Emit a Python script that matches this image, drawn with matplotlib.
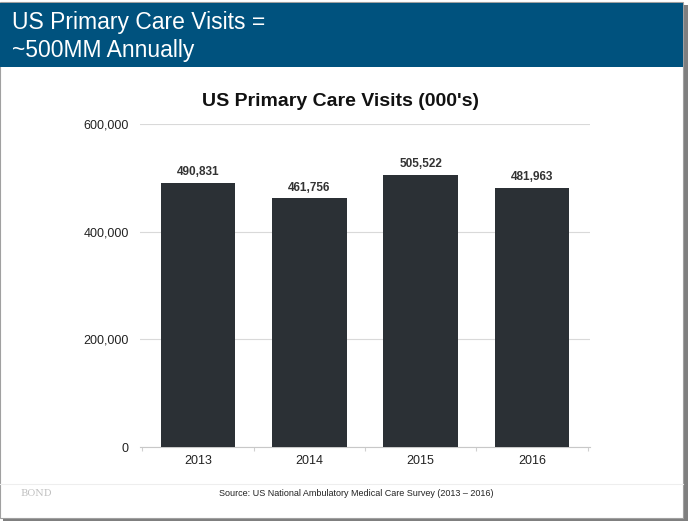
import matplotlib
matplotlib.use("Agg")
import matplotlib.pyplot as plt
from matplotlib.patches import Rectangle
from matplotlib.lines import Line2D

years = ["2013", "2014", "2015", "2016"]
visits = [490831, 461756, 505522, 481963]
yticks = [0, 200000, 400000, 600000]

plt.rcParams['font.family'] = ['Liberation Sans', 'DejaVu Sans']

fig = plt.figure(figsize=(7, 5.3), dpi=100)
W, H = 700, 530

def fx(px):
    return px / W

def fy(py):
    return 1 - py / H

# slide frame with shadow
fig.patches.append(Rectangle((fx(3), fy(521)), fx(685), fy(5) - fy(521),
                             transform=fig.transFigure, facecolor="#7f7f7f", edgecolor="none", zorder=0))
fig.patches.append(Rectangle((0, fy(518)), fx(683), fy(2) - fy(518),
                             transform=fig.transFigure, facecolor="white", edgecolor="#a0a0a0", lw=0.8, zorder=1))
# header band
fig.patches.append(Rectangle((0, fy(67)), fx(683), fy(3) - fy(67),
                             transform=fig.transFigure, facecolor="#00527e", edgecolor="none", zorder=2))
fig.text(fx(12), fy(23), "US Primary Care Visits =", color="white", fontsize=16.5, va="center", ha="left", zorder=3)
fig.text(fx(12), fy(50), "~500MM Annually", color="white", fontsize=16.5, va="center", ha="left", zorder=3)

# chart title
fig.text(fx(341), fy(102), "US Primary Care Visits (000's)", fontsize=14, fontweight="bold",
         color="#111111", va="center", ha="center", zorder=3)

# footer
fig.lines.append(Line2D([0, fx(683)], [fy(484), fy(484)], transform=fig.transFigure, color="#eeeeee", lw=0.8, zorder=3))
fig.text(fx(20), fy(494), "BOND", family="DejaVu Serif", color="#c0c0c0", fontsize=7, va="center", ha="left", zorder=3)
fig.text(fx(356), fy(493), "Source: US National Ambulatory Medical Care Survey (2013 \u2013 2016)",
         color="#222222", fontsize=6.5, va="center", ha="center", zorder=3)

ax = fig.add_axes([fx(140), fy(447), fx(590) - fx(140), fy(124) - fy(447)], zorder=4)
ax.set_facecolor("none")
x = range(len(years))
bars = ax.bar(x, visits, width=0.67, color="#2b3035", zorder=3)
for xi, v in zip(x, visits):
    ax.text(xi, v + 9000, f"{v:,}", ha="center", va="bottom", fontsize=8.5, fontweight="bold", color="#333333")

ax.set_xlim(-0.52, 3.52)
ax.set_ylim(0, 600000)
ax.set_yticks(yticks)
ax.set_yticklabels([f"{t:,}" for t in yticks])
ax.set_xticks(list(x))
ax.set_xticklabels(years)
ax.set_xticks([i - 0.5 for i in range(len(years) + 1)], minor=True)
ax.tick_params(axis="both", which="major", length=0, labelsize=9, colors="#222222")
ax.tick_params(axis="x", which="minor", length=3, color="#d0d0d0", width=0.8)
ax.tick_params(axis="y", pad=8)
ax.tick_params(axis="x", which="major", pad=6)
ax.grid(axis="y", color="#d9d9d9", lw=0.8, zorder=0)
for s in ["top", "right", "left"]:
    ax.spines[s].set_visible(False)
ax.spines["bottom"].set_color("#c8c8c8")

fig.savefig("out.png", dpi=100)
